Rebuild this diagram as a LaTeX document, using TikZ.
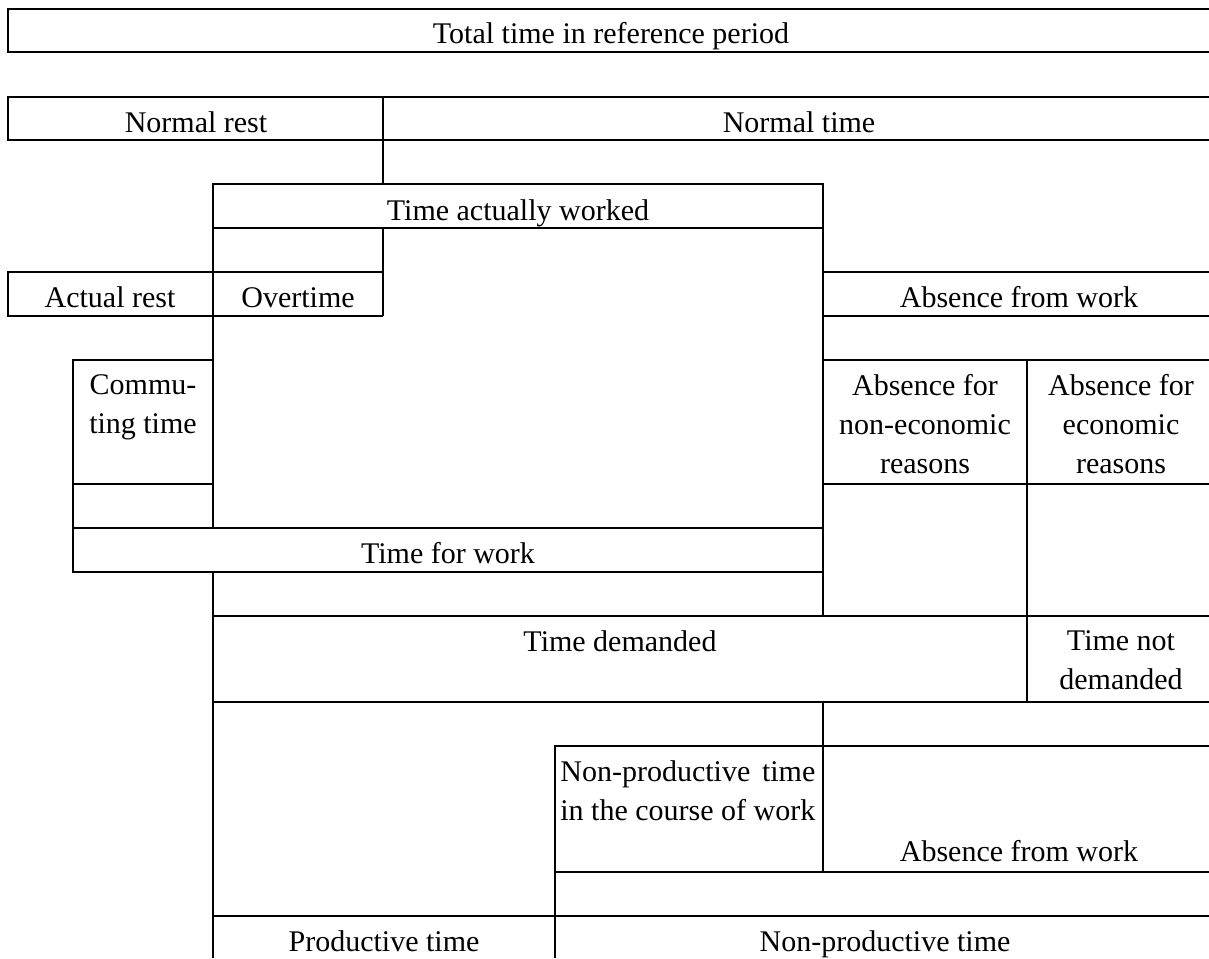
\documentclass[tikz,border=0pt]{standalone}
\usepackage{fontspec}
\usepackage{calc}
\setmainfont{Liberation Serif}

\begin{document}
\begin{tikzpicture}[x=0.5pt,y=-0.5pt,
			line width=1.4pt,
			every node/.style={
				inner sep=0pt,
				align=center,
				font=\fontsize{15}{19.5}\selectfont},
			label line/.style={anchor=base}]
			
			\useasboundingbox (0,0) rectangle (1209,958);
			
			% upper rows
			\draw (1215,9) -| (8,52) -- (1215,52);
			\draw (1215,97) -| (8,140) -- (1215,140);
			\draw (383,97) -- (383,184);
			\draw (213,184) rectangle (823,228);
			\draw (383,228) -- (383,316);
			\draw (383,272) -| (8,316) -- (383,316);
			
			% long verticals
			\draw (213,228) -- (213,528) (213,572) -- (213,958);
			\draw (823,228) -- (823,616) (823,702) -- (823,872);
			\draw (1027,360) -- (1027,702);
			
			% absence rows
			\draw (823,272) -- (1215,272) (823,316) -- (1215,316);
			\draw (823,360) -- (1215,360) (823,484) -- (1215,484);
			
			% commuting and time for work
			\draw (213,360) -| (73,572) -- (823,572);
			\draw (73,484) -- (213,484) (73,528) -- (823,528);
			
			% lower rows
			\draw (213,616) -- (1215,616) (213,702) -- (1215,702);
			\draw (1215,746) -| (555,958);
			\draw (555,872) -- (1215,872) (213,916) -- (1215,916);
			
			\node (total)[label line] at (611,43){Total time in reference period};
			
			\node (rest)[label line] at (196,132){Normal rest};
			
			\node (normal)[label line] at (799,132){Normal time};
			
			\node (worked)[label line] at (518,220){Time actually worked};
			
			\node (actrest)[label line] at (110,307){Actual rest};
			
			\node (overtime)[label line] at (298,307){Overtime};
			
			\node (absence)[label line] at (1019,307){Absence from work};
			
			\node (commute) at (143,407){Commu-\\ting time};
			
			\node (nonecon) at (925,424){Absence for\\non-economic\\reasons};
			
			\node (econ) at (1121,424){Absence for\\economic\\reasons};
			
			\node (forwork)[label line] at (448,563){Time for work};
			
			\node (demanded)[label line] at (620,651){Time demanded};
			
			\node (notdem) at (1121,660){Time not\\demanded};
			
			\node (course)[align=left,anchor=west] at (559,791){\makebox[\widthof{in the course of work}][s]{Non-productive time}\\in the course of work};
			
			\node (absence2)[label line] at (1019,861){Absence from work};
			
			\node (prod)[label line] at (384,951){Productive time};
			
			\node (nonprod)[label line] at (885,951){Non-productive time};
			
		\end{tikzpicture}
\end{document}
